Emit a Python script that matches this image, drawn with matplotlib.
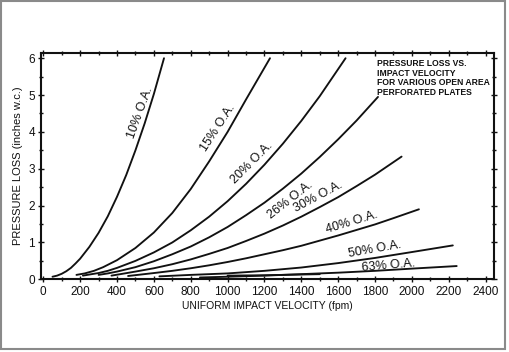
#!/usr/bin/env python3

import matplotlib
matplotlib.use("Agg")
import matplotlib.pyplot as plt
from matplotlib.patches import Rectangle
from matplotlib.ticker import MultipleLocator

plt.rcParams["font.family"] = ["Liberation Sans", "DejaVu Sans"]
fontsize = 8.5
ink = "#111111"

# velocity (fpm) / pressure loss (inches w.c.)
v10 = [50, 75, 100, 125, 150, 175, 200, 250, 300, 350, 400, 450, 500, 550, 600, 655]
p10 = [0.07, 0.10, 0.15, 0.22, 0.31, 0.43, 0.56, 0.88, 1.26, 1.71, 2.24, 2.83, 3.50, 4.23, 5.03, 6.00]

v15 = [180, 225, 275, 325, 400, 500, 600, 700, 800, 900, 1000, 1100, 1230]
p15 = [0.12, 0.16, 0.23, 0.33, 0.52, 0.85, 1.27, 1.80, 2.45, 3.20, 4.00, 4.88, 6.00]

v20 = [215, 250, 300, 350, 400, 500, 600, 700, 800, 900, 1000, 1100, 1200, 1300, 1400, 1500, 1640]
p20 = [0.10, 0.13, 0.17, 0.23, 0.31, 0.50, 0.73, 1.00, 1.33, 1.70, 2.12, 2.59, 3.11, 3.68, 4.30, 4.97, 6.00]

v26 = [300, 350, 400, 500, 600, 700, 800, 900, 1000, 1100, 1200, 1300, 1400, 1500, 1600, 1700, 1816]
p26 = [0.12, 0.16, 0.21, 0.33, 0.49, 0.68, 0.89, 1.14, 1.42, 1.74, 2.08, 2.46, 2.87, 3.32, 3.80, 4.31, 4.95]

v30 = [370, 430, 500, 600, 700, 800, 900, 1000, 1100, 1200, 1300, 1400, 1500, 1600, 1700, 1800, 1944]
p30 = [0.10, 0.15, 0.21, 0.30, 0.41, 0.54, 0.69, 0.85, 1.04, 1.24, 1.46, 1.70, 1.96, 2.23, 2.53, 2.84, 3.33]

v40 = [460, 530, 600, 700, 800, 900, 1000, 1100, 1200, 1300, 1400, 1500, 1600, 1700, 1800, 1900, 2038]
p40 = [0.09, 0.13, 0.17, 0.23, 0.30, 0.38, 0.47, 0.57, 0.68, 0.79, 0.91, 1.05, 1.19, 1.34, 1.49, 1.66, 1.90]

v50 = [630, 800, 1000, 1200, 1400, 1600, 1800, 2000, 2222]
p50 = [0.08, 0.12, 0.16, 0.23, 0.32, 0.44, 0.58, 0.74, 0.92]

v63 = [850, 1000, 1200, 1400, 1600, 1800, 2000, 2243]
p63 = [0.05, 0.07, 0.10, 0.14, 0.18, 0.23, 0.29, 0.36]

# short stray trace near the 63% curve
vtr = [1000, 1200, 1400, 1500]
ptr = [0.10, 0.11, 0.13, 0.14]

labels = ["10% O.A.", "15% O.A.", "20% O.A.", "26% O.A.",
          "30% O.A.", "40% O.A.", "50% O.A.", "63% O.A."]
label_v = [525, 947, 1133, 1338, 1490, 1675, 1799, 1870]
label_p = [4.52, 4.11, 3.16, 2.15, 2.23, 1.55, 0.81, 0.36]
label_rot = [70, 57, 45, 38, 28, 17, 10, 5]

xticks = list(range(0, 2401, 200))
yticks = list(range(0, 7))

note = "PRESSURE LOSS VS.\nIMPACT VELOCITY\nFOR VARIOUS OPEN AREA\nPERFORATED PLATES"


def main():

    fig = plt.figure(figsize=(5.1, 3.52), dpi=100)
    ax = fig.add_axes([0.0798, 0.2065, 0.8894, 0.6438])

    curves = [(v10, p10), (v15, p15), (v20, p20), (v26, p26),
              (v30, p30), (v40, p40), (v50, p50), (v63, p63), (vtr, ptr)]
    for v, p in curves:
        ax.plot(v, p, color=ink, linewidth=1.35, solid_capstyle="round",
                solid_joinstyle="round")

    for txt, x, y, r in zip(labels, label_v, label_p, label_rot):
        ax.text(x, y, txt, rotation=r, ha="center", va="center",
                rotation_mode="anchor", fontsize=9, color=ink)

    ax.text(0.741, 0.97, note, transform=ax.transAxes, ha="left", va="top",
            fontsize=6.2, fontweight="bold", color=ink, linespacing=1.05)

    ax.set_xlim(-14, 2447)
    ax.set_ylim(0, 6.15)
    ax.set_xticks(xticks)
    ax.set_yticks(yticks)
    ax.xaxis.set_minor_locator(MultipleLocator(100))
    ax.yaxis.set_minor_locator(MultipleLocator(0.5))
    ax.tick_params(which="both", direction="inout", top=True, right=True,
                   labelsize=fontsize, colors=ink, width=1)
    ax.tick_params(which="major", length=4)
    ax.tick_params(which="minor", length=3)
    ax.tick_params(axis="x", pad=3)
    ax.tick_params(axis="y", pad=2)
    for s in ax.spines.values():
        s.set_linewidth(1.5)
        s.set_color(ink)

    ax.set_xlabel("UNIFORM IMPACT VELOCITY (fpm)", fontsize=7.5, color=ink,
                  labelpad=2)
    ax.set_ylabel("PRESSURE LOSS (inches w.c.)", fontsize=8, color=ink,
                  labelpad=4)

    # grey frame round the whole picture
    fig.patches.append(Rectangle((1 / 510, 3 / 352), 504 / 510, 348 / 352,
                                 transform=fig.transFigure, fill=False,
                                 edgecolor="#8a8a8a", linewidth=1.5))

    fig.savefig("out.png", dpi=100)


if __name__ == "__main__":
    main()
